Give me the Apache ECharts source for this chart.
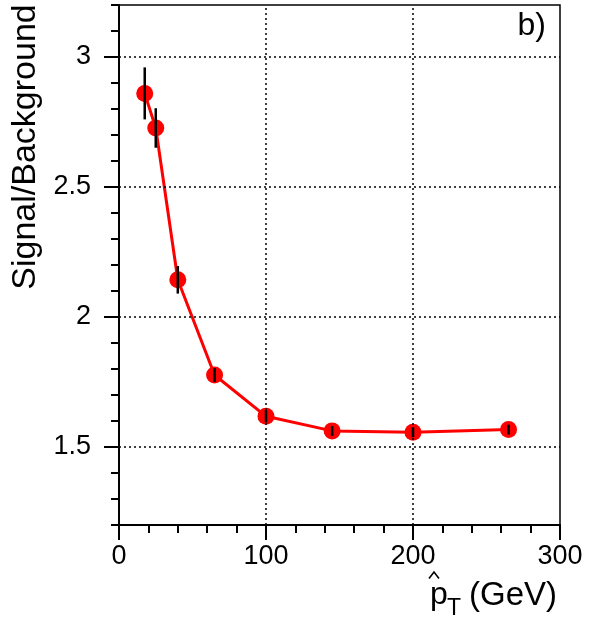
<!DOCTYPE html>
<html>
<head>
<meta charset="utf-8">
<script src="https://cdn.jsdelivr.net/npm/echarts@6/dist/echarts.min.js"></script>
<style>
  html, body { margin: 0; padding: 0; background: #fff; }
  #chart { width: 591px; height: 624px; }
</style>
</head>
<body>
<div id="chart"></div>
<script>
// Signal/Background ratio versus pT-hat, with statistical uncertainties
const ptHat = [17.5, 25, 40, 65, 100, 145, 200, 265];
const ratio = [2.86, 2.727, 2.143, 1.777, 1.618, 1.562, 1.557, 1.567];
const ratioErr = [0.10, 0.076, 0.053, 0.027, 0.024, 0.019, 0.019, 0.019];
const yMajorTicks = [1.5, 2, 2.5, 3];
const xMajorGrid = [100, 200];

const FONT = '"Liberation Sans", Arial, Helvetica, sans-serif';

const points = ptHat.map((x, i) => [x, ratio[i]]);
const errData = ptHat.map((x, i) => [x, ratio[i], ratioErr[i]]);

const chart = echarts.init(document.getElementById('chart'), null, { renderer: 'canvas' });

const dotted = { color: '#000', width: 1.5, type: [2, 3] };

chart.setOption({
  animation: false,
  backgroundColor: '#fff',
  grid: {
    left: 119, right: 31, top: 5, bottom: 99,
    show: true, borderColor: '#000', borderWidth: 1.5, backgroundColor: 'transparent'
  },
  xAxis: {
    type: 'value', min: 0, max: 300, interval: 100,
    axisLine: { show: true, onZero: false, lineStyle: { color: '#000', width: 2 } },
    axisTick: { show: true, inside: false, length: 15, lineStyle: { color: '#000', width: 2 } },
    minorTick: { show: true, splitNumber: 5, length: 8, lineStyle: { color: '#000', width: 2 } },
    axisLabel: { color: '#000', fontSize: 27, fontFamily: FONT, margin: 18,
      showMinLabel: true, showMaxLabel: true },
    splitLine: { show: false }
  },
  yAxis: [
    {
      type: 'value', min: 1.2, max: 3.2, interval: 0.1,
      axisLine: { show: true, onZero: false, lineStyle: { color: '#000', width: 2 } },
      axisTick: { show: true, inside: false, length: 8, lineStyle: { color: '#000', width: 2 } },
      axisLabel: {
        color: '#000', fontSize: 27, fontFamily: FONT, margin: 28, interval: 0,
        showMinLabel: true, showMaxLabel: true,
        formatter: v => (Math.abs(v * 2 - Math.round(v * 2)) < 1e-6 ? String(+v.toFixed(1)) : '')
      },
      splitLine: { show: false }
    },
    {
      type: 'value', min: 1.2, max: 3.2, position: 'left',
      axisLine: { show: false },
      axisTick: { show: true, inside: false, length: 15, customValues: yMajorTicks,
        lineStyle: { color: '#000', width: 2 } },
      axisLabel: { show: false },
      splitLine: { show: false }
    }
  ],
  graphic: [
    {
      type: 'text', x: 26, y: 147, rotation: Math.PI / 2,
      style: { text: 'Signal/Background', fontSize: 34, fontFamily: FONT, fill: '#000',
        align: 'center', verticalAlign: 'middle' }
    },
    {
      type: 'text', x: 546, y: 26,
      style: { text: 'b)', fontSize: 32, fontFamily: FONT, fill: '#000',
        align: 'right', verticalAlign: 'middle' }
    },
    {
      type: 'text', x: 430, y: 595,
      style: { text: 'p', fontSize: 32, fontFamily: FONT, fill: '#000',
        align: 'left', verticalAlign: 'middle' }
    },
    {
      // circumflex accent over the p
      type: 'polyline',
      shape: { points: [[429, 578.5], [434, 572], [439, 578.5]] },
      style: { stroke: '#000', lineWidth: 1.6, fill: null }
    },
    {
      type: 'text', x: 447, y: 609,
      style: { text: 'T', fontSize: 23, fontFamily: FONT, fill: '#000',
        align: 'left', verticalAlign: 'middle' }
    },
    {
      type: 'text', x: 469, y: 596,
      style: { text: '(GeV)', fontSize: 33, fontFamily: FONT, fill: '#000',
        align: 'left', verticalAlign: 'middle' }
    }
  ],
  series: [
    {
      type: 'line',
      data: points,
      symbol: 'circle',
      symbolSize: 17,
      lineStyle: { color: '#ff0000', width: 3 },
      itemStyle: { color: '#ff0000' },
      z: 3,
      markLine: {
        silent: true, symbol: 'none', label: { show: false },
        lineStyle: dotted,
        data: yMajorTicks.map(v => ({ yAxis: v }))
          .concat(xMajorGrid.map(v => ({ xAxis: v })))
      }
    },
    {
      type: 'custom',
      data: errData,
      z: 5,
      renderItem: (params, api) => {
        const x = api.value(0), y = api.value(1), e = api.value(2);
        const p1 = api.coord([x, y + e]);
        const p2 = api.coord([x, y - e]);
        return {
          type: 'line',
          shape: { x1: p1[0], y1: p1[1], x2: p2[0], y2: p2[1] },
          style: { stroke: '#000', lineWidth: 2.5 }
        };
      }
    }
  ]
});
</script>
</body>
</html>
